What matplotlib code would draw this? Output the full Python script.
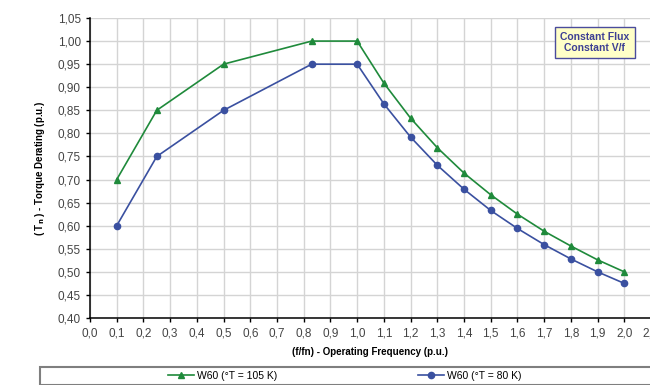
import matplotlib.pyplot as plt
from matplotlib.patches import Rectangle
from matplotlib.ticker import FuncFormatter

plt.rcParams['font.family'] = ['Liberation Sans', 'DejaVu Sans']

# dados
freq = [0.1, 0.25, 0.5, 0.83, 1.0, 1.1, 1.2, 1.3, 1.4, 1.5, 1.6, 1.7, 1.8, 1.9, 2.0]
torque_105 = [0.70, 0.85, 0.95, 1.00, 1.00, 0.909, 0.833, 0.769, 0.714, 0.667, 0.625, 0.588, 0.556, 0.526, 0.500]
torque_80 = [0.60, 0.75, 0.85, 0.95, 0.95, 0.864, 0.792, 0.731, 0.679, 0.633, 0.594, 0.559, 0.528, 0.500, 0.475]
label_105 = 'W60 (°T = 105 K)'
label_80 = 'W60 (°T = 80 K)'

verde = '#1f8a3b'
azul = '#3a50a0'

fig = plt.figure(figsize=(6.5, 3.85), dpi=100)
ax = fig.add_axes([90 / 650, 1 - 318 / 385, 561 / 650, 300 / 385])

ax.plot(freq, torque_105, color=verde, marker='^', markersize=5, linewidth=1.2, label=label_105)
ax.plot(freq, torque_80, color=azul, marker='o', markersize=4.5, linewidth=1.2, label=label_80)

ax.set_xlim(0, 2.1)
ax.set_ylim(0.40, 1.05)
ax.set_xticks([i / 10 for i in range(22)])
ax.set_yticks([0.40 + 0.05 * i for i in range(14)])
ax.xaxis.set_major_formatter(FuncFormatter(lambda v, _: f'{v:.1f}'.replace('.', ',')))
ax.yaxis.set_major_formatter(FuncFormatter(lambda v, _: f'{v:.2f}'.replace('.', ',')))
ax.tick_params(labelsize=8.5, labelcolor='#444444', color='black', length=3, width=1)

ax.grid(True, color='#d4d4d4', linewidth=1)
ax.set_axisbelow(True)
for s in ['top', 'right']:
    ax.spines[s].set_visible(False)
for s in ['left', 'bottom']:
    ax.spines[s].set_color('black')
    ax.spines[s].set_linewidth(1.1)

ax.set_xlabel('(f/fn) - Operating Frequency (p.u.)', fontsize=7, fontweight='bold', labelpad=6)
ax.set_ylabel('( T$_\\mathbf{n}$ ) - Torque Derating (p.u.)', fontsize=7, fontweight='bold', labelpad=8)

# caixa de texto
ax.text(1.89, 0.997, 'Constant Flux\nConstant V/f', ha='center', va='center',
        fontsize=7.5, fontweight='bold', color='#3d3f94', linespacing=1.15,
        bbox=dict(boxstyle='square,pad=0.5', facecolor='#ffffc8', edgecolor='#4a4c9c', linewidth=1))

# caixa da legenda
fig.patches.append(Rectangle((40 / 650, 0), 1, 18 / 385, transform=fig.transFigure,
                             facecolor='white', edgecolor='#7f7f7f', linewidth=1.5))
fig.legend(loc='center', bbox_to_anchor=(345 / 650, 9 / 385), ncol=2, frameon=False,
           fontsize=7.5, handlelength=2.5, handletextpad=0.3, columnspacing=13.5)

fig.savefig('out.png', dpi=100)
